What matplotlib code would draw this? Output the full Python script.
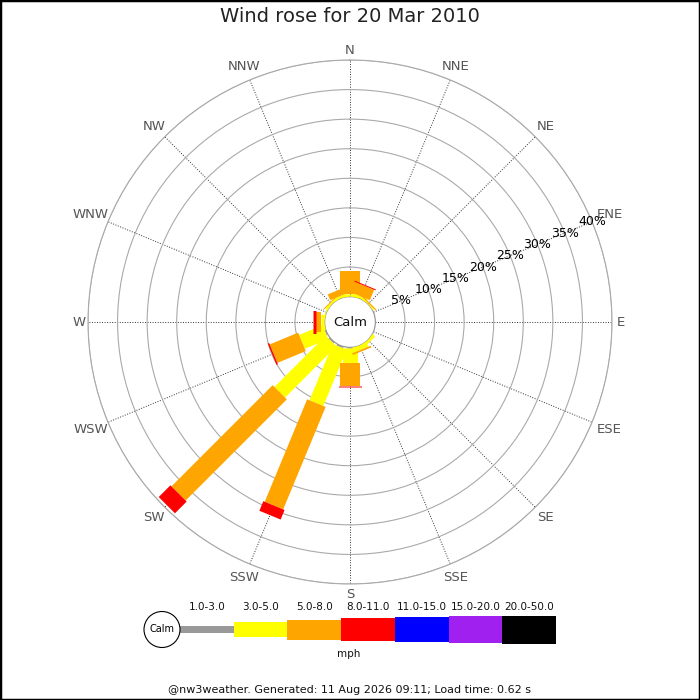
import numpy as np
import matplotlib
matplotlib.use('Agg')
import matplotlib.pyplot as plt
from matplotlib.patches import Circle, Rectangle

# ---------------- data ----------------
directions = ['N', 'NNE', 'NE', 'ENE', 'E', 'ESE', 'SE', 'SSE',
              'S', 'SSW', 'SW', 'WSW', 'W', 'WNW', 'NW', 'NNW']
speed_bins = ['1.0-3.0', '3.0-5.0', '5.0-8.0', '8.0-11.0',
              '11.0-15.0', '15.0-20.0', '20.0-50.0']
bin_colors = ['#999999', '#ffff00', '#ffa500', '#ff0000',
              '#0000ff', '#a020f0', '#000000']

# percentage frequency per direction for each speed class
freq_1_3   = [0, 0, 0, 0, 0, 0, 0, 0, 0.15, 0.25, 0.25, 0.2, 0, 0, 0, 0]
freq_3_5   = [0.4, 0.4, 0.15, 0, 0, 0, 0.45, 0.75, 2.55, 10.3, 12.25, 4.3, 0.65, 0.15, 0.3, 0.4]
freq_5_8   = [3.9, 1.9, 0.2, 0, 0, 0, 0, 0.3, 3.85, 18.75, 24.2, 5.2, 0.85, 0, 0.15, 1.05]
freq_8_11  = [0, 0.17, 0, 0, 0, 0, 0, 0, 0.2, 1.75, 2.8, 0.25, 0.4, 0, 0, 0]
freq_11_15 = [0] * 16
freq_15_20 = [0] * 16
freq_20_50 = [0] * 16
freqs = [freq_1_3, freq_3_5, freq_5_8, freq_8_11, freq_11_15, freq_15_20, freq_20_50]

ring_values = [5, 10, 15, 20, 25, 30, 35, 40]
title = 'Wind rose for 20 Mar 2010'
unit = 'mph'
calm_label = 'Calm'
footer = '@nw3weather. Generated: 11 Aug 2026 09:11; Load time: 0.62 s'

# ---------------- layout ----------------
W = H = 700
fig = plt.figure(figsize=(7, 7), dpi=100)
CX, CY, R = 350, 322, 262        # rose centre and outer radius (px)
R0 = 25.4                         # calm circle radius (px)
RMAX = 40
px_per = (R - R0) / RMAX
rorigin = -R0 / px_per
class_px = [7, 15, 20, 23, 25, 27, 28]   # bar thickness per class (px)

ax = fig.add_axes([(CX - R) / W, (H - CY - R) / H, 2 * R / W, 2 * R / H],
                  projection='polar')
ax.set_theta_zero_location('N')
ax.set_theta_direction(-1)
theta = np.deg2rad(np.arange(len(directions)) * 22.5)

cum = np.zeros(len(directions))
for k, (vals, col, wpx) in enumerate(zip(freqs, bin_colors, class_px)):
    vals = np.asarray(vals, dtype=float)
    for i in range(len(directions)):
        if vals[i] <= 0:
            continue
        start = cum[i] if cum[i] > 0 else rorigin
        ax.plot([theta[i], theta[i]], [start, cum[i] + vals[i]], color=col,
                lw=wpx * 0.72, solid_capstyle='butt', zorder=3 + k)
    cum += vals

ax.set_ylim(0, RMAX)
ax.set_rorigin(rorigin)
ax.set_xticks(theta)
ax.set_xticklabels([])
ax.set_yticks(ring_values)
ax.set_yticklabels([])
ax.tick_params(length=0)
ax.xaxis.grid(True, color='#333333', linestyle=(0, (1, 1.6)), linewidth=0.7)
ax.yaxis.grid(True, color='#aaaaaa', linestyle='-', linewidth=0.8)
ax.spines['polar'].set_color('#aaaaaa')
ax.spines['polar'].set_linewidth(0.8)
ax.spines['inner'].set_color('#999999')
ax.spines['inner'].set_linewidth(0.9)
ax.set_facecolor('white')

ax.text(0.5, 0.5, calm_label, transform=ax.transAxes, ha='center', va='center',
        fontsize=9.5, color='#111111', zorder=20)

for v in ring_values:
    ax.text(np.deg2rad(67.5), v, f'{v}%', ha='center', va='center',
            fontsize=9, color='black', zorder=20)

for th, lab in zip(theta, directions):
    hw = 13.2 * 0.33 * len(lab)
    hh = 5.0
    rpx = 267 + hw * abs(np.sin(th)) + hh * abs(np.cos(th))
    ax.text(th, rpx / px_per + rorigin, lab, ha='center', va='center',
            fontsize=9.5, color='#555555', clip_on=False)

fig.text(0.5, 1 - 17 / H, title, ha='center', va='center', fontsize=14,
         color='#222222')

# ---------------- legend ----------------
lax = fig.add_axes([0, 0, 1, 1])
lax.set_xlim(0, W)
lax.set_ylim(H, 0)
lax.axis('off')
lax.patch.set_alpha(0)

seg_x0, seg_len, seg_cy = 180, 53.7, 629.5
for k, (lab, col, wpx) in enumerate(zip(speed_bins, bin_colors, class_px)):
    x0 = seg_x0 + k * seg_len
    lax.add_patch(Rectangle((x0, seg_cy - wpx / 2), seg_len, wpx,
                            facecolor=col, edgecolor='none'))
    lax.text(x0 + seg_len / 2, 607, lab, ha='center', va='center',
             fontsize=7.5, color='#111111')
lax.add_patch(Circle((162, seg_cy), 18, facecolor='white', edgecolor='black',
                     lw=0.8, zorder=5))
lax.text(162, seg_cy, calm_label, ha='center', va='center', fontsize=7,
         zorder=6)
lax.text(349, 654, unit, ha='center', va='center', fontsize=7.5,
         color='#111111')
lax.text(350, 690, footer, ha='center', va='center', fontsize=8,
         color='#111111')

fig.add_artist(Rectangle((0, 0), 1, 1, transform=fig.transFigure, fill=False,
                         edgecolor='black', lw=2.5))

fig.savefig('out.png', dpi=100)
